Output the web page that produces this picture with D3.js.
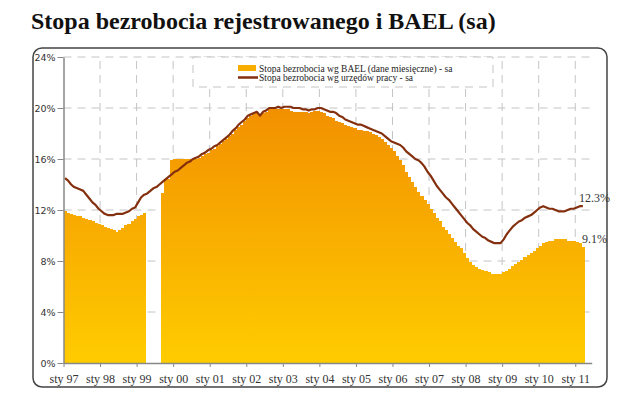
<!DOCTYPE html>
<html><head><meta charset="utf-8">
<script src="https://cdn.jsdelivr.net/npm/d3@7/dist/d3.min.js"></script>
<style>
html,body{margin:0;padding:0;background:#fff;}
svg{display:block;}
</style></head>
<body>
<svg id="chart" width="640" height="409"></svg>
<script>
// ---- data (monthly, Jan 1997 = index 0 ... Mar 2011 = index 170) ----
const startYear = 1997;
const yTicks = [0, 4, 8, 12, 16, 20, 24];
const xTickLabels = ["sty 97","sty 98","sty 99","sty 00","sty 01","sty 02","sty 03","sty 04","sty 05","sty 06","sty 07","sty 08","sty 09","sty 10","sty 11"];
const seriesNames = ["Stopa bezrobocia wg BAEL (dane miesięczne) - sa", "Stopa bezrobocia wg urzędów pracy - sa"];

// BAEL (bars), null = no data
const bael = [
  11.9,11.8,11.7,11.6,11.5,11.5,11.4,11.3,11.2,11.1,11.0,10.9,   // 1997
  10.8,10.7,10.6,10.5,10.4,10.3,10.4,10.6,10.8,10.9,11.1,11.3,   // 1998
  11.5,11.6,11.8,null,null,null,null,null,13.3,14.4,14.4,15.9,   // 1999
  16.0,16.0,16.0,16.0,16.0,16.0,16.0,16.0,16.1,16.2,16.4,16.5,   // 2000
  16.7,16.8,17.0,17.2,17.4,17.6,17.8,18.0,18.3,18.5,18.7,19.0,   // 2001
  19.2,19.4,19.5,19.6,19.5,19.6,19.7,19.9,19.9,19.9,19.9,19.9,   // 2002
  19.9,19.9,19.8,19.7,19.7,19.7,19.7,19.7,19.6,19.7,19.8,19.8,   // 2003
  19.7,19.6,19.4,19.3,19.2,19.0,18.9,18.8,18.7,18.6,18.5,18.4,   // 2004
  18.3,18.3,18.2,18.2,18.1,18.0,17.9,17.7,17.6,17.3,17.1,16.9,   // 2005
  16.6,16.2,15.9,15.5,15.0,14.6,14.2,13.8,13.4,13.1,12.8,12.5,   // 2006
  12.1,11.8,11.4,11.1,10.7,10.4,10.1,9.8,9.5,9.2,9.0,8.6,        // 2007
  8.2,7.9,7.7,7.5,7.4,7.3,7.2,7.1,7.0,7.0,7.0,7.0,               // 2008
  7.1,7.2,7.4,7.6,7.8,7.9,8.1,8.3,8.5,8.6,8.8,9.0,               // 2009
  9.2,9.4,9.5,9.6,9.6,9.7,9.7,9.7,9.7,9.6,9.6,9.6,               // 2010
  9.5,9.4,9.1                                                    // 2011
];

// registered unemployment (line)
const registered = [
  14.5,14.3,14.0,13.8,13.7,13.6,13.5,13.2,12.9,12.6,12.4,12.1,   // 1997
  11.9,11.7,11.6,11.6,11.6,11.7,11.7,11.7,11.8,11.9,12.1,12.2,   // 1998
  12.6,13.0,13.2,13.3,13.5,13.7,13.8,14.0,14.2,14.4,14.6,14.8,   // 1999
  15.0,15.1,15.3,15.5,15.7,15.8,16.0,16.1,16.2,16.4,16.5,16.7,   // 2000
  16.8,17.0,17.1,17.3,17.5,17.7,17.9,18.2,18.4,18.7,18.9,19.1,   // 2001
  19.4,19.5,19.6,19.7,19.4,19.7,19.8,20.0,20.0,20.0,20.1,20.0,   // 2002
  20.1,20.1,20.1,20.0,20.0,20.0,19.9,19.9,19.8,19.9,19.9,20.0,   // 2003
  20.0,19.9,19.8,19.7,19.7,19.6,19.4,19.3,19.1,19.0,18.9,18.8,   // 2004
  18.7,18.7,18.6,18.5,18.4,18.3,18.2,18.1,18.0,17.8,17.6,17.4,   // 2005
  17.3,17.2,17.1,16.9,16.6,16.4,16.2,16.0,15.9,15.7,15.4,15.0,   // 2006
  14.7,14.3,13.9,13.6,13.3,13.0,12.8,12.5,12.2,11.9,11.6,11.3,   // 2007
  11.0,10.8,10.5,10.3,10.1,9.9,9.8,9.6,9.5,9.4,9.4,9.4,          // 2008
  9.7,10.1,10.4,10.7,10.9,11.1,11.2,11.4,11.5,11.6,11.8,12.0,    // 2009
  12.2,12.3,12.2,12.1,12.1,12.0,11.9,11.9,11.9,12.0,12.1,12.1,   // 2010
  12.2,12.3,12.3                                                 // 2011
];
const endLabels = ["12.3%", "9.1%"];

// ---- drawing ----
const svg = d3.select("#chart");
const x = d3.scaleLinear().domain([0, 173.4]).range([63.5, 591.7]);
const y = d3.scaleLinear().domain([0, 24]).range([363, 57]);

const defs = svg.append("defs");
const grad = defs.append("linearGradient").attr("id","barGrad")
  .attr("gradientUnits","userSpaceOnUse").attr("x1",0).attr("y1",y(20)).attr("x2",0).attr("y2",y(0));
grad.append("stop").attr("offset","0%").attr("stop-color","#F29000");
grad.append("stop").attr("offset","100%").attr("stop-color","#FFCC00");

// title
svg.append("text").attr("x",31).attr("y",29)
  .attr("font-family","'Liberation Serif', serif").attr("font-weight","bold")
  .attr("font-size",24).attr("fill","#111")
  .text("Stopa bezrobocia rejestrowanego i BAEL (sa)");

// frame
svg.append("rect").attr("x",33).attr("y",48).attr("width",574).attr("height",339)
  .attr("rx",9).attr("fill","#fff").attr("stroke","#444").attr("stroke-width",1.5);

// grid
const grid = svg.append("g").attr("stroke","#c4c4c4").attr("stroke-width",1).attr("stroke-dasharray","8,6");
yTicks.filter(d=>d>0).forEach(t=>{
  grid.append("line").attr("x1",x(0)).attr("x2",x(173.4)).attr("y1",y(t)).attr("y2",y(t));
});
xTickLabels.forEach((lab,i)=>{ if(i>0) grid.append("line").attr("x1",x(i*12)).attr("x2",x(i*12)).attr("y1",y(0)).attr("y2",y(24)); });

// bars
const barData = bael.map((v,i)=>({i,v})).filter(d=>d.v!==null);
svg.append("g").attr("shape-rendering","crispEdges").selectAll("rect").data(barData).join("rect")
  .attr("x",d=>x(d.i)).attr("width",d=>x(d.i+1)-x(d.i)+0.6)
  .attr("y",d=>y(d.v)).attr("height",d=>y(0)-y(d.v))
  .attr("fill","url(#barGrad)");

// line
const line = d3.line().x((d,i)=>x(i+0.5)).y(d=>y(d)).curve(d3.curveLinear);
svg.append("path").datum(registered).attr("d",line)
  .attr("fill","none").attr("stroke","#84300F").attr("stroke-width",2.2).attr("stroke-linejoin","round");

// axes
const yAxis = d3.axisLeft(y).tickValues(yTicks).tickFormat(d=>d+"%").tickSize(6).tickSizeOuter(0);
const gy = svg.append("g").attr("transform",`translate(${x(0)},0)`).call(yAxis);
gy.select(".domain").attr("stroke","#888").attr("stroke-width",1.5);
gy.selectAll(".tick line").attr("stroke","#888");
gy.selectAll("text").attr("font-family","'DejaVu Sans', Verdana, sans-serif").attr("font-size",9.5).attr("fill","#333").attr("x",-8);

const xAxis = d3.axisBottom(x).tickValues(xTickLabels.map((d,i)=>i*12)).tickFormat((d,i)=>xTickLabels[i]).tickSize(4).tickSizeOuter(0);
const gx = svg.append("g").attr("transform",`translate(0,${y(0)})`).call(xAxis);
gx.select(".domain").attr("stroke","#888").attr("stroke-width",1.5);
gx.selectAll(".tick line").attr("stroke","#888");
gx.selectAll("text").attr("font-family","'Liberation Serif', serif").attr("font-size",12).attr("fill","#333").attr("dy","1.05em");

// legend
const lg = svg.append("g");
lg.append("rect").attr("x",193).attr("y",57).attr("width",300).attr("height",30)
  .attr("fill","#fff").attr("stroke","#c4c4c4").attr("stroke-dasharray","8,6");
lg.append("rect").attr("x",238).attr("y",65).attr("width",18).attr("height",6).attr("fill","#F8AE00");
lg.append("line").attr("x1",238).attr("x2",258).attr("y1",77.5).attr("y2",77.5).attr("stroke","#84300F").attr("stroke-width",2.5);
lg.selectAll("text.lg").data(seriesNames).join("text").attr("class","lg")
  .attr("x",259).attr("y",(d,i)=>71.5+i*9.5)
  .attr("font-family","'Liberation Serif', serif").attr("font-size",9.5).attr("fill","#222")
  .text(d=>d);

// end labels
svg.append("text").attr("x",579).attr("y",202).attr("font-family","'Liberation Serif', serif").attr("font-size",12).attr("fill","#333").text(endLabels[0]);
svg.append("text").attr("x",582).attr("y",243).attr("font-family","'Liberation Serif', serif").attr("font-size",12).attr("fill","#333").text(endLabels[1]);
</script>
</body></html>
